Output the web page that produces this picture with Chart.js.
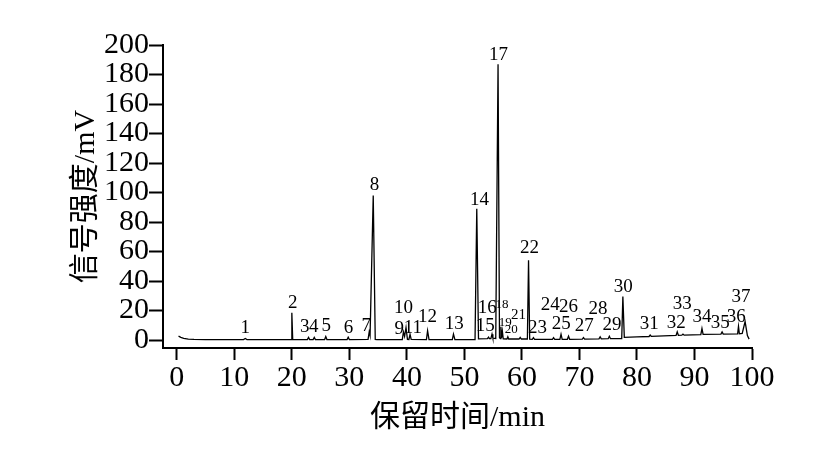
<!DOCTYPE html>
<html>
<head>
<meta charset="utf-8">
<script src="https://cdn.jsdelivr.net/npm/chart.js@4.4.1/dist/chart.umd.min.js"></script>
<style>
  html, body { margin: 0; padding: 0; background: #fff; }
  canvas { display: block; }
</style>
</head>
<body>
<canvas id="chromChart" width="817" height="469"></canvas>
<script>
// chromatogram trace (retention time in min, signal in mV)
const retentionTime = [
  0.3, 0.7, 1.2, 2.0, 3.0, 5.0,
  11.6, 11.9, 12.2,
  19.9, 20.0, 20.15,
  22.7, 22.9, 23.1, 23.7, 23.9, 24.1,
  25.7, 25.9, 26.1,
  29.6, 29.8, 30.0,
  33.25, 33.45, 33.6, 34.15, 34.5, 34.8,
  39.2, 39.4, 39.6, 39.85, 40.1, 40.35, 40.55, 40.75,
  43.4, 43.6, 43.85,
  47.9, 48.1, 48.35,
  51.85, 52.15, 52.45,
  54.0, 54.2, 54.35, 54.6, 54.8, 54.95,
  55.45, 55.85, 56.1,
  56.25, 56.35, 56.45, 56.6, 56.75,
  57.4, 57.55, 57.7,
  59.5, 59.7, 59.9,
  60.95, 61.15, 61.35,
  61.8, 62.0, 62.2,
  65.3, 65.5, 65.7,
  66.6, 66.8, 67.0,
  67.9, 68.1, 68.3,
  70.5, 70.7, 70.9,
  73.4, 73.6, 73.8,
  75.0, 75.2, 75.4,
  77.35, 77.55, 77.8,
  80.0, 82.1, 82.3, 82.5,
  86.8, 87.0, 87.2, 87.8, 88.0, 88.2,
  91.1, 91.3, 91.5,
  94.6, 94.8, 95.0,
  97.5, 97.65, 97.8,
  98.3, 98.8, 99.2, 99.5
];
const signal = [
  2.6, 1.8, 1.1, 0.6, 0.4, 0.3,
  0.3, 1.0, 0.3,
  0.3, 18.5, 0.3,
  0.3, 1.8, 0.3, 0.3, 1.8, 0.3,
  0.3, 2.4, 0.3,
  0.3, 1.9, 0.3,
  0.4, 5.5, 3.0, 98, 0.4, 0.3,
  0.3, 5.5, 2.5, 8.5, 0.5, 0.4, 3.8, 0.4,
  0.3, 6.3, 0.3,
  0.3, 4.0, 0.3,
  0.3, 89, 0.8,
  0.9, 2.0, 1.0, 1.0, 4.0, 1.2,
  1.0, 187, 1.5,
  1.0, 9.0, 1.5, 6.0, 0.8,
  0.7, 2.2, 0.7,
  0.7, 1.8, 0.7,
  0.7, 54, 0.6,
  0.5, 1.6, 0.5,
  0.5, 1.6, 0.5,
  0.5, 4.0, 0.5,
  0.5, 2.6, 0.5,
  0.6, 1.6, 0.6,
  0.8, 2.2, 0.8,
  0.9, 2.6, 0.9,
  0.9, 29.5, 1.8,
  2.1, 2.4, 3.4, 2.5,
  3.1, 5.5, 3.2, 3.3, 4.0, 3.3,
  3.7, 7.8, 3.8,
  4.0, 5.5, 4.0,
  4.2, 9.3, 4.3,
  4.5, 12.5, 3.0, 0.6
];

// peak numbers and where their labels sit (min, mV)
const peakNo = [
  1, 2, 3, 4, 5, 6, 7, 8, 9, 10, 11, 12, 13, 14, 15, 16, 17, 18, 19,
  20, 21, 22, 23, 24, 25, 26, 27, 28, 29, 30, 31, 32, 33, 34, 35, 36, 37
];
const labelTime = [
  11.88, 20.17, 22.23, 23.79, 25.97, 29.84, 32.92, 34.37, 38.66, 39.41,
  41.04, 43.58, 48.23, 52.63, 53.62, 53.97, 55.93, 56.52, 57.1, 58.14,
  59.41, 61.32, 62.71, 64.92, 66.83, 68.1, 70.83, 73.22, 75.65, 77.62,
  82.14, 86.83, 87.88, 91.3, 94.49, 97.27, 98.09
];
const labelLevel = [
  7.9, 24.9, 8.6, 8.6, 9.5, 8.3, 9.5, 105.1, 7.5, 21.5,
  8.3, 15.8, 10.8, 94.6, 9.7, 21.5, 193.2, 23.7, 11.5, 6.8,
  16.9, 62.4, 8.1, 23.7, 10.8, 22.6, 9.5, 21.0, 10.2, 35.9,
  10.8, 11.7, 24.4, 15.8, 11.5, 15.8, 29.2
];

const xTicks = [0, 10, 20, 30, 40, 50, 60, 70, 80, 90, 100];
const yTicks = [0, 20, 40, 60, 80, 100, 120, 140, 160, 180, 200];

const serif = '"Liberation Serif", "Times New Roman", "Noto Sans CJK SC", serif';

const trace = retentionTime.map((t, i) => ({ x: t, y: signal[i] }));

const peakLabels = {
  id: "peakLabels",
  afterDatasetsDraw(chart) {
    const ctx = chart.ctx;
    const xs = chart.scales.x;
    const ys = chart.scales.y;
    ctx.save();
    ctx.fillStyle = "#000";
    ctx.textAlign = "center";
    ctx.textBaseline = "middle";
    peakNo.forEach((n, i) => {
      let size = 19;
      if (n >= 18 && n <= 20) size = 13;
      if (n == 21) size = 15;
      ctx.font = size + "px " + serif;
      ctx.fillText(String(n), xs.getPixelForValue(labelTime[i]), ys.getPixelForValue(labelLevel[i]));
    });
    ctx.restore();
  }
};

new Chart(document.getElementById("chromChart"), {
  type: "scatter",
  data: {
    datasets: [{
      data: trace,
      showLine: true,
      borderColor: "#000",
      borderWidth: 1.3,
      pointRadius: 0,
      tension: 0,
      fill: false
    }]
  },
  options: {
    responsive: false,
    animation: false,
    layout: { padding: { left: 0, top: 45, right: 65, bottom: 0 } },
    plugins: {
      legend: { display: false },
      tooltip: { enabled: false }
    },
    scales: {
      x: {
        type: "linear",
        min: -2.4,
        max: 100,
        afterBuildTicks: s => { s.ticks = xTicks.map(v => ({ value: v })); },
        afterFit: s => { s.height = 121; },
        grid: { drawOnChartArea: false, drawTicks: true, tickLength: 12, tickWidth: 2, tickColor: "#000" },
        border: { display: true, color: "#000", width: 2 },
        ticks: { color: "#000", font: { family: serif, size: 30 }, padding: 0, maxRotation: 0, autoSkip: false },
        title: {
          display: true,
          text: "保留时间/min",
          color: "#000",
          font: { family: serif, size: 30 },
          padding: { top: 0, bottom: 33 }
        }
      },
      y: {
        type: "linear",
        min: -5.4,
        max: 200,
        afterBuildTicks: s => { s.ticks = yTicks.map(v => ({ value: v })); },
        afterFit: s => { s.width = 163; },
        grid: { drawOnChartArea: false, drawTicks: true, tickLength: 14, tickWidth: 2, tickColor: "#000" },
        border: { display: true, color: "#000", width: 2 },
        ticks: { color: "#000", font: { family: serif, size: 30 }, padding: 0, autoSkip: false },
        title: {
          display: true,
          text: "信号强度/mV",
          color: "#000",
          font: { family: serif, size: 30 },
          padding: { top: 68, bottom: 0 }
        }
      }
    }
  },
  plugins: [peakLabels]
});
</script>
</body>
</html>
